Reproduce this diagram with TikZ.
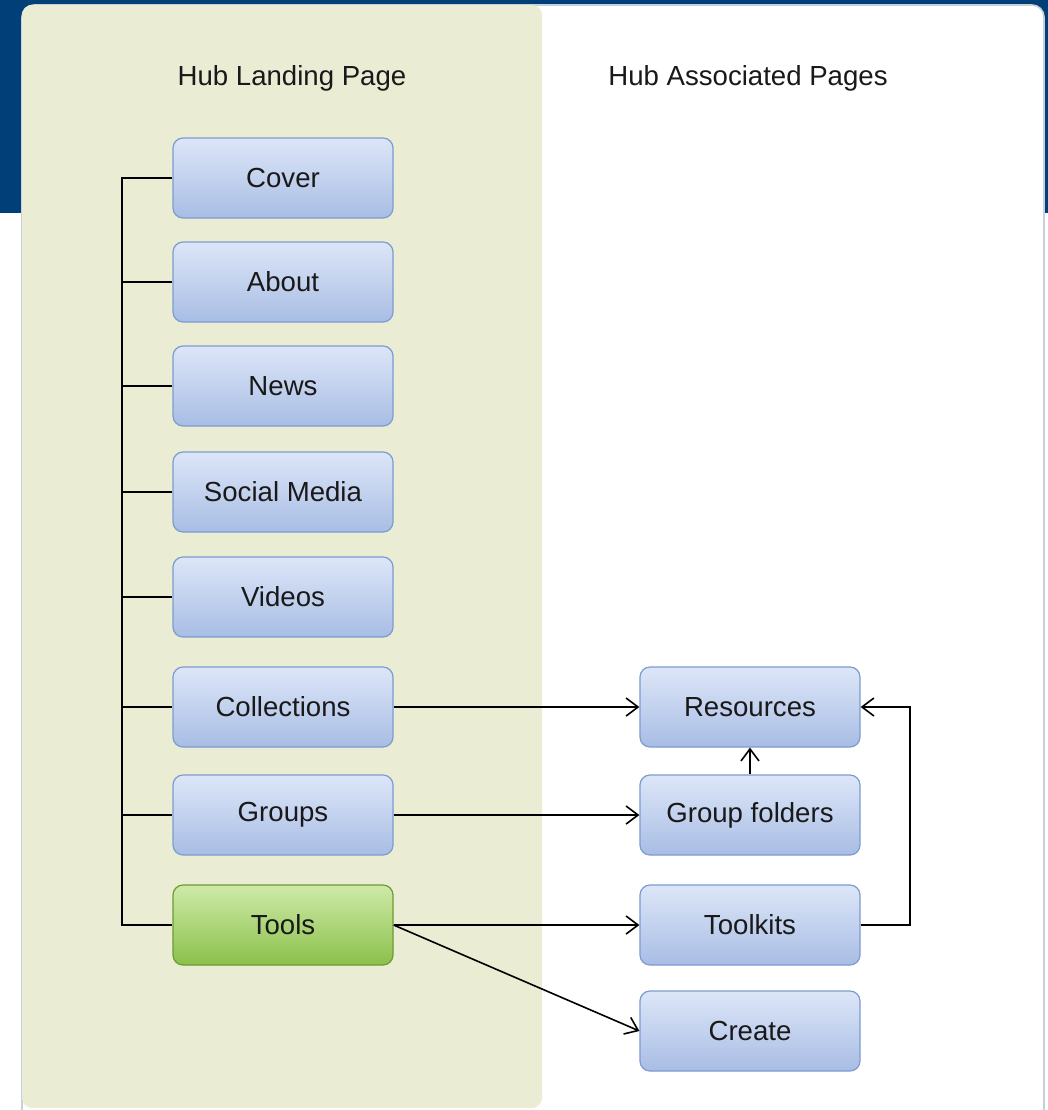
\documentclass[tikz,border=0pt]{standalone}
\usepackage{fontspec}
\setmainfont{Liberation Sans}
\usetikzlibrary{arrows.meta}
\definecolor{hubblue}{HTML}{003F78}
\definecolor{panelline}{HTML}{C9D0DA}
\definecolor{landgreen}{HTML}{EAEDD3}
\definecolor{pagetop}{HTML}{DDE6F8}
\definecolor{pagebot}{HTML}{A8BDE4}
\definecolor{pageline}{HTML}{7D9BD0}
\definecolor{tooltop}{HTML}{CEEAA8}
\definecolor{toolbot}{HTML}{8BC04A}
\definecolor{toolline}{HTML}{6E9B35}
\begin{document}
\begin{tikzpicture}[x=0.5pt,y=-0.5pt,
  every node/.style={font=\fontsize{13.8}{16}\selectfont,text=black!90},
  page/.style={draw=pageline,line width=0.6pt,rounded corners=5pt,
    top color=pagetop,bottom color=pagebot,
    minimum width=110pt,minimum height=40pt,inner sep=0pt},
  toolpage/.style={page,draw=toolline,top color=tooltop,bottom color=toolbot},
  wire/.style={line width=0.8pt},
  link/.style={wire,-{Straight Barb[length=6pt,width=9pt]}}]
  \useasboundingbox (0,0) rectangle (1048,1110);
  \begin{scope}
    \clip (0,0) rectangle (1048,1110);
    \fill[hubblue] (0,0) rectangle (1048,213);
    \draw[fill=white,draw=panelline,line width=0.8pt,rounded corners=6pt]
      (22,5) rectangle (1044,1140);
    \fill[landgreen,rounded corners=5pt] (22,5) rectangle (542,1108);
  \end{scope}
  \node (landing)     at (292,78)  {Hub Landing Page};
  \node (associated)  at (748,78)  {Hub Associated Pages};
  \node[page]     (cover)       at (283,178)  {Cover};
  \node[page]     (about)       at (283,282)  {About};
  \node[page]     (news)        at (283,386)  {News};
  \node[page]     (social)      at (283,492)  {Social Media};
  \node[page]     (videos)      at (283,597)  {Videos};
  \node[page]     (collections) at (283,707)  {Collections};
  \node[page]     (groups)      at (283,815)  {Groups};
  \node[toolpage] (tools)       at (283,925)  {Tools};
  \node[page]     (resources)   at (750,707)  {Resources};
  \node[page]     (folders)     at (750,815)  {Group folders};
  \node[page]     (toolkits)    at (750,925)  {Toolkits};
  \node[page]     (create)      at (750,1031) {Create};
  \coordinate (bus)  at (122,178);
  \coordinate (turn) at (910,925);
  \draw[wire] (cover.west) -- (bus) -- (bus |- tools.west) -- (tools.west);
  \draw[wire] (bus |- about.west)       -- (about.west);
  \draw[wire] (bus |- news.west)        -- (news.west);
  \draw[wire] (bus |- social.west)      -- (social.west);
  \draw[wire] (bus |- videos.west)      -- (videos.west);
  \draw[wire] (bus |- collections.west) -- (collections.west);
  \draw[wire] (bus |- groups.west)      -- (groups.west);
  \draw[link] (collections.east) -- (resources.west);
  \draw[link] (groups.east)      -- (folders.west);
  \draw[link] (tools.east)       -- (toolkits.west);
  \draw[link] (tools.east)       -- (create.west);
  \draw[link] (folders)          -- (resources);
  \draw[link] (toolkits.east) -- (turn) |- (resources.east);
\end{tikzpicture}
\end{document}
